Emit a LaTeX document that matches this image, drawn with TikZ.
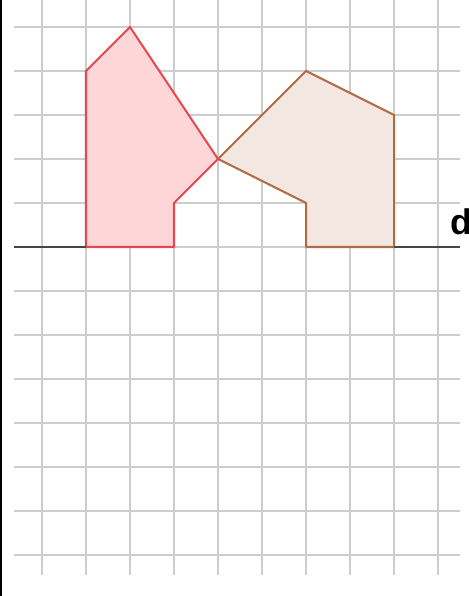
\documentclass[tikz,border=0pt]{standalone}
\usepackage{fontspec}
\setsansfont{Liberation Sans}
\usepackage{tikz}
\definecolor{gridgray}{RGB}{205,205,205}
\definecolor{axisgray}{RGB}{70,70,70}
\definecolor{redline}{RGB}{228,72,78}
\definecolor{redfill}{RGB}{255,214,216}
\definecolor{brownline}{RGB}{176,106,68}
\definecolor{brownfill}{RGB}{243,231,226}
\tikzset{
	gridline/.style={gridgray, line width=0.9pt},
	axisline/.style={axisgray, line width=1.2pt},
	redshape/.style={draw=redline, fill=redfill, line width=1.3pt, line join=round},
	brownshape/.style={draw=brownline, fill=brownfill, line width=1.3pt, line join=round},
	axislabel/.style={font=\sffamily\bfseries\fontsize{23}{28}\selectfont, inner sep=0pt, anchor=base west},
}
\begin{document}
\begin{tikzpicture}
			\useasboundingbox (-0.9545,-7.9318) rectangle (9.6818,5.6136);
			\fill[black] (-0.9545,-7.9318) rectangle (-0.91,5.6136);
			
			% grid
			\foreach \gx in {0,...,9}
				\draw[gridline] (\gx,5.6136) -- (\gx,-7.45);
			\foreach \gy in {-7,...,5}
				\draw[gridline] (-0.64,\gy) -- (9.5,\gy);
			
			% shapes
			\draw[redshape] (1,0) -- (1,4) -- (2,5) -- (4,2) -- (3,1) -- (3,0) -- cycle;
			\draw[brownshape] (4,2) -- (6,4) -- (8,3) -- (8,0) -- (6,0) -- (6,1) -- cycle;
			
			% line
			\coordinate (L) at (-0.64,0);
			\coordinate (R) at (9.5,0);
			\draw[axisline] (L) -- (3,0);
			\draw[axisline] (6,0) -- (R);
			\draw[redline, line width=1.3pt] (1,0) -- (3,0);
			\draw[brownline, line width=1.3pt] (6,0) -- (8,0);
			\node[axislabel] (lbl) at (9.27,0.273) {d};
			
		\end{tikzpicture}
\end{document}
